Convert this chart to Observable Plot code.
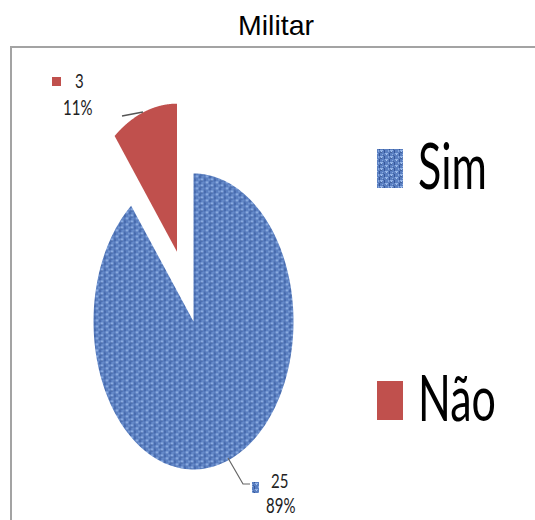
<!DOCTYPE html>
<html><head><meta charset="utf-8">
<script src="https://cdn.jsdelivr.net/npm/d3@7"></script>
<script src="https://cdn.jsdelivr.net/npm/@observablehq/plot@0.6"></script>
<style>
body{margin:0;width:535px;height:520px;overflow:hidden;background:#fff;position:relative;}
#title{position:absolute;left:0;top:2px;width:552px;text-align:center;font:28.5px "Liberation Sans",Arial,sans-serif;line-height:46px;color:#000;}
#chart{position:absolute;left:0;top:46px;}
#frame{position:absolute;left:10px;top:46px;width:600px;height:600px;border-left:2px solid #a3a3a3;border-top:2px solid #a3a3a3;}
#over{position:absolute;left:0;top:0;}
</style></head>
<body>
<div id="title">Militar</div>
<div id="chart"></div>
<div id="frame"></div>
<svg id="over" width="535" height="520"></svg>
<script>
const title = "Militar";
const categories = ["Sim", "Não"];
const values = [25, 3];
const explode = [0, 0.5];
const sliceColors = ["url(#tex)", "#c0504d"];

const total = d3.sum(values);
const pct = values.map(v => Math.round(v / total * 100) + "%");

const arcs = d3.pie().sort(null).value(d => d)(values);
const pts = [];
arcs.forEach((a, i) => {
  const mid = (a.startAngle + a.endAngle) / 2;
  const ox = explode[i] * Math.sin(mid), oy = explode[i] * Math.cos(mid);
  pts.push({cat: categories[i], x: ox, y: oy});
  const n = 160;
  for (let k = 0; k <= n; k++) {
    const t = a.startAngle + (a.endAngle - a.startAngle) * k / n;
    pts.push({cat: categories[i], x: ox + Math.sin(t), y: oy + Math.cos(t)});
  }
  pts.push({cat: categories[i], x: ox, y: oy});
});

const chart = Plot.plot({
  width: 535, height: 474,
  style: {background: "transparent"},
  x: {domain: [-1, 1], range: [93, 293], axis: null},
  y: {domain: [-1, 1], range: [423, 127], axis: null},
  color: {type: "ordinal", domain: categories, range: sliceColors},
  marks: [
    Plot.line(pts, {x: "x", y: "y", z: "cat", fill: "cat", stroke: "none", curve: "linear"})
  ]
});
document.getElementById("chart").appendChild(chart);

const ns = "http://www.w3.org/2000/svg";
const over = document.getElementById("over");
over.innerHTML = `
<defs>
 <pattern id="tex" patternUnits="userSpaceOnUse" width="10" height="6">
  <rect width="10" height="6" fill="#5a7fc1"/>
  <rect x="0" y="0" width="3" height="1" fill="#92b3e6"/>
  <rect x="5" y="3" width="3" height="1" fill="#92b3e6"/>
  <rect x="8" y="0" width="1" height="2" fill="#86a8de"/>
  <rect x="2" y="4" width="1" height="1" fill="#86a8de"/>
  <rect x="1" y="1" width="1" height="1" fill="#aac4ee"/>
  <rect x="6" y="4" width="1" height="1" fill="#aac4ee"/>
  <rect x="4" y="0" width="1" height="3" fill="#36579a"/>
  <rect x="9" y="3" width="1" height="3" fill="#36579a"/>
  <rect x="0" y="2" width="2" height="1" fill="#42639f"/>
  <rect x="3" y="5" width="1" height="1" fill="#42639f"/>
 </pattern>
</defs>`;
function el(tag, attrs, text) {
  const e = document.createElementNS(ns, tag);
  for (const k in attrs) e.setAttribute(k, attrs[k]);
  if (text != null) e.textContent = text;
  over.appendChild(e);
  return e;
}
// legend
const legendY = [189, 421];
categories.forEach((c, i) => {
  el("rect", {x: 377, y: legendY[i] - 40, width: 26, height: 39, fill: sliceColors[i]});
  el("text", {transform: `translate(418,${legendY[i]}) scale(1,1.48)`, "font-family": "Lato, sans-serif", "font-size": 43, fill: "#000"}, c);
});
// data labels
const lab = {"font-family": "Lato, sans-serif", "font-size": 15, fill: "#222"};
// Não label (top-left)
el("rect", {x: 52, y: 77, width: 9, height: 9, fill: sliceColors[1]});
el("text", {...lab, transform: "translate(75,88) scale(1,1.25)"}, String(values[1]));
el("text", {...lab, transform: "translate(63,115) scale(1,1.35)"}, pct[1]);
el("line", {x1: 122, y1: 116, x2: 143, y2: 112, stroke: "#555", "stroke-width": 1.5});
// Sim label (bottom)
el("rect", {x: 252, y: 482, width: 7, height: 11, fill: sliceColors[0]});
el("text", {...lab, transform: "translate(271,488) scale(1,1.3)"}, String(values[0]));
el("text", {...lab, transform: "translate(266,513) scale(1,1.35)"}, pct[0]);
el("polyline", {points: "228,458 243,484 250,484", fill: "none", stroke: "#666", "stroke-width": 1.2});
</script>
</body></html>
